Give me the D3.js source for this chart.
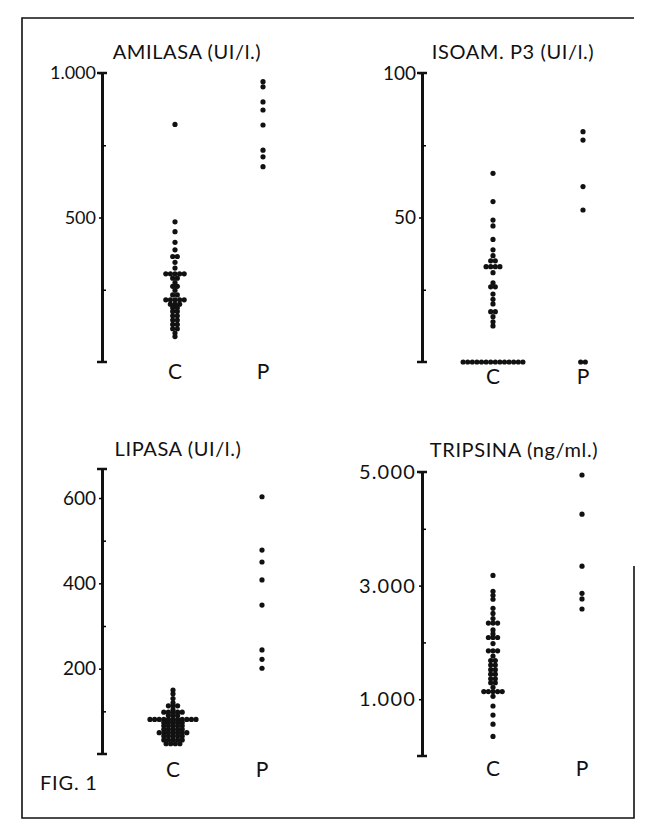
<!DOCTYPE html>
<html>
<head>
<meta charset="utf-8">
<script src="https://cdn.jsdelivr.net/npm/d3@7"></script>
<style>
  body { margin: 0; background: #fff; }
  svg text { font-family: Lato, "Open Sans", sans-serif; fill: #111; }
</style>
</head>
<body>
<svg id="fig" width="652" height="828"></svg>
<script>
// values (repeats = dots side by side on one row)
var amilasaC = [822, 485, 451, 414, 388, 365, 365, 345, 325,
    305, 305, 305, 305, 305, 290, 290, 275, 262, 262, 248, 232, 232,
    215, 215, 215, 215, 215, 200, 200, 200, 188, 188, 175, 175, 160, 160,
    145, 145, 130, 130, 115, 115, 100, 88];
var amilasaP = [970, 952, 900, 872, 820, 733, 710, 676];

var isoamC = [65.3, 55.5, 49.1, 47.1, 42.4, 38.8, 36.8, 35, 35,
    33, 33, 33, 33, 30.9, 27.4, 26, 26, 23.5, 21.7, 20.1,
    17.4, 17.4, 15.7, 13.9, 12.5,
    0, 0, 0, 0, 0, 0, 0, 0, 0, 0, 0, 0, 0, 0];
var isoamP = [79.7, 76.8, 60.7, 52.6, 0, 0];

var lipasaC = [150, 141, 130, 120, 113, 113, 113, 104, 98, 98, 98, 98, 98,
    90, 90, 90, 81, 81, 81, 81, 81, 81, 81, 81, 81, 81, 81,
    74, 74, 74, 74, 74, 66, 66, 66, 66, 66, 58, 58, 58, 58, 58,
    50, 50, 50, 50, 50, 50, 50, 42, 42, 42, 42, 42, 33, 33, 33, 33, 33,
    24, 24, 24, 24];
var lipasaP = [603, 478, 450, 408, 349, 244, 222, 201];

var tripsinaC = [3180, 2900, 2830, 2760, 2600, 2510, 2420, 2340, 2340, 2340,
    2220, 2150, 2086, 2086, 2086, 1980, 1851, 1851, 1851, 1760,
    1680, 1680, 1600, 1600, 1520, 1520, 1440, 1440, 1360, 1360, 1290, 1290,
    1210, 1135, 1135, 1135, 1135, 1135, 1050, 880, 720, 560, 345];
var tripsinaP = [4947, 4257, 3342, 2864, 2765, 2588];

var groups = ["C", "P"];

var panels = [
  {title: "AMILASA (UI/l.)", max: 1000, major: [500, 1000], minor: [250, 750],
   C: amilasaC, P: amilasaP, fs: 18, ls: 0,
   ax: 102, top: 73, bottom: 362, cx: 175, px: 263, tx: 187, ty: 59, ly: 379},
  {title: "ISOAM. P3 (UI/l.)", max: 100, major: [50, 100], minor: [25, 75],
   C: isoamC, P: isoamP, fs: 19, ls: 0,
   ax: 422, top: 73, bottom: 362, cx: 493, px: 583, tx: 513, ty: 59, ly: 384},
  {title: "LIPASA (UI/l.)", max: 668, major: [200, 400, 600], minor: [100, 300, 500],
   C: lipasaC, P: lipasaP, fs: 19, ls: 0,
   ax: 102, top: 469, bottom: 754, cx: 173, px: 262, tx: 178, ty: 456, ly: 777},
  {title: "TRIPSINA (ng/ml.)", max: 5000, major: [1000, 3000, 5000], minor: [2000, 4000],
   C: tripsinaC, P: tripsinaP, fs: 20, ls: 1.2,
   ax: 422, top: 472, bottom: 756, cx: 493, px: 582, tx: 514, ty: 457, ly: 776}
];

var loc = d3.formatLocale({decimal: ",", thousands: ".", grouping: [3], currency: ["", ""]});
var fmt = loc.format(",");

var svg = d3.select("#fig");

// frame
svg.append("path")
  .attr("d", "M634,566V818H22V18H634")
  .attr("fill", "none").attr("stroke", "#111").attr("stroke-width", 1.6);

var R = 2.6, step = 4.6;

function drawPanel(p) {
  var g = svg.append("g");
  var y = d3.scaleLinear().domain([0, p.max]).range([p.bottom, p.top]);
  var x = d3.scaleOrdinal().domain(groups).range([p.cx, p.px]);

  var yAxis = d3.axisLeft(y).tickValues(p.major).tickSize(3).tickSizeOuter(0)
    .tickPadding(3).tickFormat(fmt);
  var ag = g.append("g").attr("transform", "translate(" + p.ax + ",0)").call(yAxis);
  ag.select(".domain").attr("stroke-width", 3).attr("stroke", "#111");
  ag.selectAll(".tick line").attr("stroke-width", 1.5);
  ag.selectAll(".tick text").style("font-size", p.fs + "px")
    .style("letter-spacing", p.ls + "px").attr("fill", "#111");

  var minorAxis = d3.axisRight(y).tickValues(p.minor).tickSize(3).tickFormat("");
  var mg = g.append("g").attr("transform", "translate(" + (p.ax + 1) + ",0)").call(minorAxis);
  mg.select(".domain").remove();
  mg.selectAll(".tick line").attr("stroke-width", 1.5);

  // end caps
  g.selectAll(".cap").data(y.domain()).enter().append("line")
    .attr("x1", p.ax - 5).attr("x2", p.ax + 5)
    .attr("y1", d => y(d)).attr("y2", d => y(d))
    .attr("stroke", "#111").attr("stroke-width", 2.5);

  g.append("text").attr("x", p.tx).attr("y", p.ty)
    .attr("text-anchor", "middle").style("font-size", "20px")
    .style("letter-spacing", "0.6px").text(p.title);

  g.selectAll(".grp").data(groups).enter().append("text")
    .attr("x", d => x(d)).attr("y", p.ly)
    .attr("text-anchor", "middle").style("font-size", "21px").text(d => d);

  groups.forEach(function(k) {
    var counts = d3.rollup(p[k], v => v.length, d => d);
    var seen = new Map();
    var pts = p[k].map(function(v) {
      var i = seen.get(v) || 0;
      seen.set(v, i + 1);
      var n = counts.get(v);
      return {v: v, off: (i - (n - 1) / 2) * step};
    });
    g.selectAll(".dot" + k).data(pts).enter().append("circle")
      .attr("cx", d => x(k) + d.off)
      .attr("cy", d => y(d.v))
      .attr("r", R)
      .attr("fill", "#111");
  });
}

panels.forEach(drawPanel);

svg.append("text").attr("x", 40).attr("y", 790)
  .style("font-size", "20px").style("letter-spacing", "0.8px").text("FIG. 1");
</script>
</body>
</html>
